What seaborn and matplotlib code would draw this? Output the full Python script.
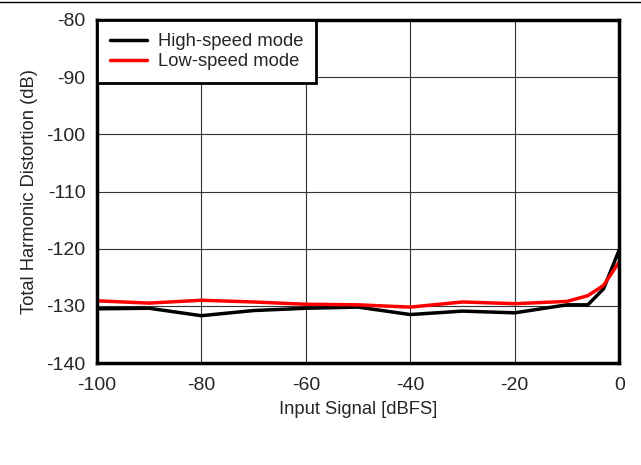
import numpy as np
import pandas as pd
import matplotlib
matplotlib.use("Agg")
import matplotlib.pyplot as plt
import seaborn as sns
from matplotlib.lines import Line2D

# data
input_dbfs = [-100, -90, -80, -70, -60, -50, -40, -30, -20, -10, -6, -3, 0]
thd_high = [-130.5, -130.4, -131.7, -130.8, -130.4, -130.2, -131.5, -130.9, -131.2, -129.8, -129.8, -127.0, -120.2]
thd_low = [-129.1, -129.5, -129.0, -129.3, -129.7, -129.8, -130.2, -129.3, -129.6, -129.2, -128.2, -126.4, -122.3]
series_names = ["High-speed mode", "Low-speed mode"]

df = pd.DataFrame({
    "x": input_dbfs * 2,
    "y": thd_high + thd_low,
    "mode": [series_names[0]] * len(input_dbfs) + [series_names[1]] * len(input_dbfs),
})

sns.set_style("white")
plt.rcParams["font.family"] = ["Liberation Sans", "DejaVu Sans"]
plt.rcParams["axes.unicode_minus"] = False

fig = plt.figure(figsize=(6.41, 4.65), dpi=100)
ax = fig.add_axes([0.151, 0.219, 0.815, 0.738])

sns.lineplot(data=df, x="x", y="y", hue="mode",
             palette={series_names[0]: "black", series_names[1]: "#ff0000"},
             linewidth=2.5, ax=ax, legend=False)

ax.set_xlim(-100, 0)
ax.set_ylim(-140, -80)
ax.set_xticks(np.arange(-100, 1, 20))
ax.set_yticks(np.arange(-140, -79, 10))
ax.grid(True, color="#333333", linewidth=0.8)
for s in ax.spines.values():
    s.set_color("black")
    s.set_linewidth(2.5)
ax.tick_params(labelsize=14, length=0)
ax.tick_params(axis="x", pad=10)
ax.tick_params(axis="y", pad=8)
ax.set_xlabel("Input Signal [dBFS]", fontsize=13.2, labelpad=5)
ax.set_ylabel("Total Harmonic Distortion (dB)", fontsize=13.2, labelpad=6)

handles = [Line2D([], [], color="black", lw=2.5), Line2D([], [], color="#ff0000", lw=2.5)]
leg = ax.legend(handles, series_names, loc="upper left", fontsize=13.2,
                frameon=True, fancybox=False, borderaxespad=0.0,
                handlelength=2.0, borderpad=0.72, labelspacing=0.15, handletextpad=0.6)
leg.get_frame().set_edgecolor("black")
leg.get_frame().set_linewidth(2.0)
leg.get_frame().set_alpha(1)

fig.add_artist(Line2D([0, 1], [0.995, 0.995], color="black", lw=1.0, transform=fig.transFigure))

fig.savefig("out.png", dpi=100)
